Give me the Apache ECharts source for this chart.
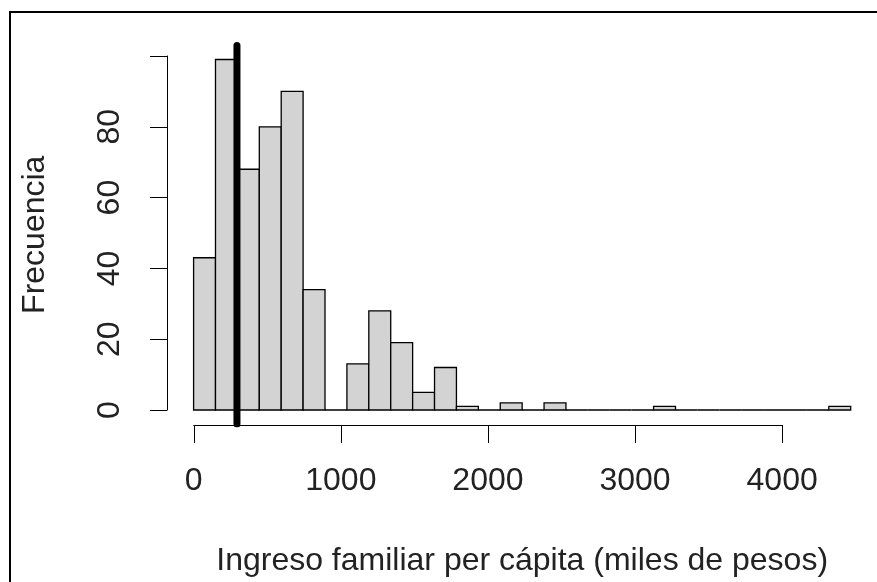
<!DOCTYPE html>
<html>
<head>
<meta charset="utf-8">
<script src="https://cdn.jsdelivr.net/npm/echarts@6/dist/echarts.min.js"></script>
<style>html,body{margin:0;padding:0;background:#fff;}#c{width:877px;height:582px;}</style>
</head>
<body>
<div id="c"></div>
<script>
// Histogram bins (miles de pesos) and frequencies
const binStarts = [0,150,300,450,600,750,900,1050,1200,1350,1500,1650,1800,1950,2100,2250,2400,2550,2700,2850,3000,3150,3300,3450,3600,3750,3900,4050,4200,4350];
const binEnds   = [150,300,450,600,750,900,1050,1200,1350,1500,1650,1800,1950,2100,2250,2400,2550,2700,2850,3000,3150,3300,3450,3600,3750,3900,4050,4200,4350,4500];
const counts    = [43,99,68,80,90,34,0,13,28,19,5,12,1,0,2,0,2,0,0,0,0,1,0,0,0,0,0,0,0,1];
const refLineX  = 297;
const xTickValues = [0,1000,2000,3000,4000];
const yTickValues = [0,20,40,60,80,100];
const yTickLabels = ['0','20','40','60','80',''];
const xTitle = 'Ingreso familiar per cápita (miles de pesos)';
const yTitle = 'Frecuencia';

const histData = binStarts.map((s,i)=>[s, binEnds[i], counts[i]]);
const FONT = '"Liberation Sans", Arial, sans-serif';
const TXT = '#222';
const yMaxData = Math.max(...counts);
const yPad = yMaxData*0.04;
const xPad = (binEnds[binEnds.length-1]-binStarts[0])*0.04;

const chart = echarts.init(document.getElementById('c'), null, {renderer:'canvas'});
chart.setOption({
  animation:false,
  backgroundColor:'#fff',
  graphic:[{type:'rect', shape:{x:10,y:12,width:900,height:700}, style:{fill:'none',stroke:'#000',lineWidth:2}, silent:true}],
  grid:[
    {left:167.3, right:-5.2, top:45.5, bottom:158},
    {left:193.75, width:588.4, top:300, bottom:157},
    {left:167, width:50, top:56, bottom:172}
  ],
  xAxis:[
    {gridIndex:0, type:'value', min:binStarts[0]-xPad, max:binEnds[binEnds.length-1]+xPad,
     axisLine:{show:false}, axisTick:{show:false}, axisLabel:{show:false}, splitLine:{show:false},
     name:xTitle, nameLocation:'middle', nameGap:121,
     nameTextStyle:{fontFamily:FONT, fontSize:32, color:TXT}},
    {gridIndex:1, type:'value', min:xTickValues[0], max:xTickValues[xTickValues.length-1], interval:1000,
     axisLine:{show:true, lineStyle:{color:'#000', width:1}},
     axisTick:{show:true, length:18, lineStyle:{color:'#000', width:1}},
     axisLabel:{show:true, margin:40, fontFamily:FONT, fontSize:32, color:TXT,
       formatter:function(v){ const i = xTickValues.indexOf(v); return i>=0 ? String(xTickValues[i]) : ''; }},
     splitLine:{show:false}},
    {gridIndex:2, type:'value', show:false}
  ],
  yAxis:[
    {gridIndex:0, type:'value', min:-yPad, max:yMaxData+yPad,
     axisLine:{show:false}, axisTick:{show:false}, axisLabel:{show:false}, splitLine:{show:false},
     name:yTitle, nameLocation:'middle', nameGap:116,
     nameTextStyle:{fontFamily:FONT, fontSize:32, color:TXT}},
    {gridIndex:1, type:'value', show:false},
    {gridIndex:2, type:'value', min:yTickValues[0], max:yTickValues[yTickValues.length-1], interval:20,
     axisLine:{show:true, lineStyle:{color:'#000', width:1}},
     axisTick:{show:true, length:17, lineStyle:{color:'#000', width:1}},
     axisLabel:{show:true, rotate:90, margin:41, fontFamily:FONT, fontSize:32, color:TXT,
       formatter:function(v){ const i = yTickValues.indexOf(v); return i>=0 ? yTickLabels[i] : ''; }},
     splitLine:{show:false}}
  ],
  series:[
    {type:'custom', xAxisIndex:0, yAxisIndex:0, data:histData, z:2,
     renderItem:function(params, api){
       const p0 = api.coord([api.value(0), 0]);
       const p1 = api.coord([api.value(1), api.value(2)]);
       return {type:'rect', shape:{x:p0[0], y:p1[1], width:p1[0]-p0[0], height:p0[1]-p1[1]},
               style:{fill:'#d3d3d3', stroke:'#000', lineWidth:1.3}};
     }},
    {type:'line', xAxisIndex:0, yAxisIndex:0, z:5, symbol:'none',
     data:[[refLineX, -yPad],[refLineX, yMaxData+yPad]],
     lineStyle:{color:'#000', width:7, cap:'round'}}
  ]
});
</script>
</body>
</html>
